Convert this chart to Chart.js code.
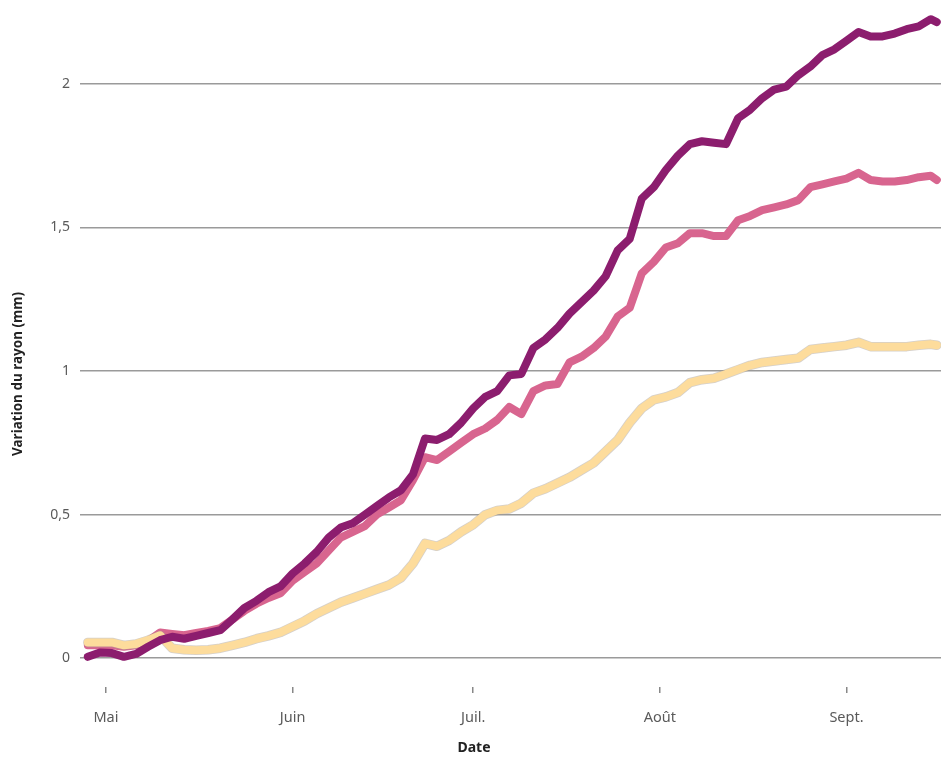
<!DOCTYPE html>
<html>
<head>
<meta charset="utf-8">
<script src="https://cdn.jsdelivr.net/npm/chart.js@4/dist/chart.umd.min.js"></script>
<style>
html,body{margin:0;padding:0;background:#fff;}
#c{display:block;}
</style>
</head>
<body>
<canvas id="c" width="941" height="760"></canvas>
<script>
// Days counted from 1 May
const days = [-3,-1,1,3,5,7,9,11,13,15,17,19,21,23,25,27,29,31,33,35,37,39,41,43,45,47,49,51,53,55,57,59,61,63,65,67,69,71,73,75,77,79,81,83,85,87,89,91,93,95,97,99,101,103,105,107,109,111,113,115,117,119,121,123,125,127,129,131,133,135,137,138];

const seriesDark = [0.005,0.02,0.018,0.005,0.015,0.04,0.063,0.075,0.068,0.078,0.088,0.098,0.135,0.175,0.2,0.23,0.25,0.295,0.33,0.37,0.42,0.455,0.47,0.5,0.53,0.56,0.585,0.64,0.765,0.76,0.78,0.82,0.87,0.91,0.93,0.985,0.99,1.08,1.11,1.15,1.2,1.24,1.28,1.33,1.42,1.46,1.6,1.64,1.70,1.75,1.79,1.80,1.795,1.79,1.88,1.91,1.95,1.98,1.99,2.03,2.06,2.1,2.12,2.15,2.18,2.165,2.165,2.175,2.19,2.2,2.225,2.215];

const seriesPink = [0.045,0.045,0.045,0.04,0.045,0.06,0.09,0.085,0.08,0.088,0.095,0.105,0.135,0.165,0.19,0.21,0.226,0.27,0.3,0.33,0.375,0.42,0.44,0.46,0.5,0.525,0.55,0.62,0.70,0.69,0.72,0.75,0.78,0.80,0.83,0.875,0.85,0.93,0.95,0.955,1.03,1.05,1.08,1.12,1.19,1.22,1.34,1.38,1.43,1.445,1.48,1.48,1.47,1.47,1.525,1.54,1.56,1.57,1.58,1.595,1.64,1.65,1.66,1.67,1.69,1.665,1.66,1.66,1.665,1.675,1.68,1.665];

const seriesYellow = [0.055,0.055,0.055,0.045,0.05,0.063,0.08,0.035,0.03,0.028,0.03,0.035,0.045,0.055,0.068,0.078,0.09,0.11,0.13,0.155,0.175,0.195,0.21,0.225,0.24,0.255,0.28,0.33,0.40,0.39,0.41,0.44,0.465,0.50,0.515,0.52,0.54,0.575,0.59,0.61,0.63,0.655,0.68,0.72,0.76,0.82,0.87,0.9,0.91,0.925,0.96,0.97,0.975,0.99,1.005,1.02,1.03,1.035,1.04,1.045,1.075,1.08,1.085,1.09,1.10,1.085,1.085,1.085,1.085,1.09,1.093,1.09];

const monthTicks = [0,31,61,92,123];
const monthLabels = ['Mai','Juin','Juil.','Août','Sept.'];
const yTicks = [0,0.5,1,1.5,2];

const pts = arr => days.map((d,i)=>({x:d,y:arr[i]}));

const titlePlugin = {
  id:'titles',
  afterDraw(chart){
    const ctx = chart.ctx;
    ctx.save();
    ctx.fillStyle = '#222';
    ctx.font = 'bold 14px "Noto Sans"';
    ctx.textAlign = 'center';
    ctx.textBaseline = 'middle';
    ctx.fillText('Date', 474, 748);
    ctx.translate(18, 374);
    ctx.rotate(-Math.PI/2);
    ctx.font = 'bold 13.5px "Noto Sans"';
    ctx.fillText('Variation du rayon (mm)', 0, 0);
    ctx.restore();
  }
};

const common = {pointRadius:0, borderWidth:8, tension:0, fill:false, borderJoinStyle:'round', borderCapStyle:'round'};

new Chart(document.getElementById('c'), {
  type:'line',
  data:{
    datasets:[
      Object.assign({label:'a', data:pts(seriesDark), borderColor:'#8C1D6E', order:0}, common),
      Object.assign({label:'c', data:pts(seriesYellow), borderColor:'#FDDC9C', order:1}, common),
      Object.assign({label:'c2', data:pts(seriesYellow), borderColor:'rgba(170,160,150,0.5)', order:2}, common, {borderWidth:9.5}),
      Object.assign({label:'b', data:pts(seriesPink), borderColor:'#D8658F', order:3}, common)
    ]
  },
  options:{
    responsive:false,
    animation:false,
    layout:{padding:{top:12,left:0,right:0,bottom:0}},
    plugins:{legend:{display:false}, tooltip:{enabled:false}},
    scales:{
      x:{
        type:'linear', min:-4.3, max:138.7,
        afterBuildTicks: s => { s.ticks = monthTicks.map(v=>({value:v})); },
        afterFit: s => { s.height = 73; s.paddingLeft = 0; s.paddingRight = 0; },
        ticks:{
          autoSkip:false, maxRotation:0, padding:16, color:'#5a5a5a',
          font:{family:'"Noto Sans"', size:14.5},
          callback: v => monthLabels[monthTicks.indexOf(v)]
        },
        grid:{drawOnChartArea:false, drawTicks:true, tickLength:6, color:'#888', lineWidth:1.5},
        border:{display:false}
      },
      y:{
        min:-0.1, max:2.25,
        afterBuildTicks: s => { s.ticks = yTicks.map(v=>({value:v})); },
        afterFit: s => { s.width = 80; s.paddingTop = 0; s.paddingBottom = 0; },
        ticks:{
          padding:10, color:'#5a5a5a',
          font:{family:'"Noto Sans"', size:14},
          callback: v => String(v).replace('.', ',')
        },
        grid:{color:'#9a9a9a', lineWidth:1.6, drawTicks:false},
        border:{display:false}
      }
    }
  },
  plugins:[titlePlugin]
});
</script>
</body>
</html>
